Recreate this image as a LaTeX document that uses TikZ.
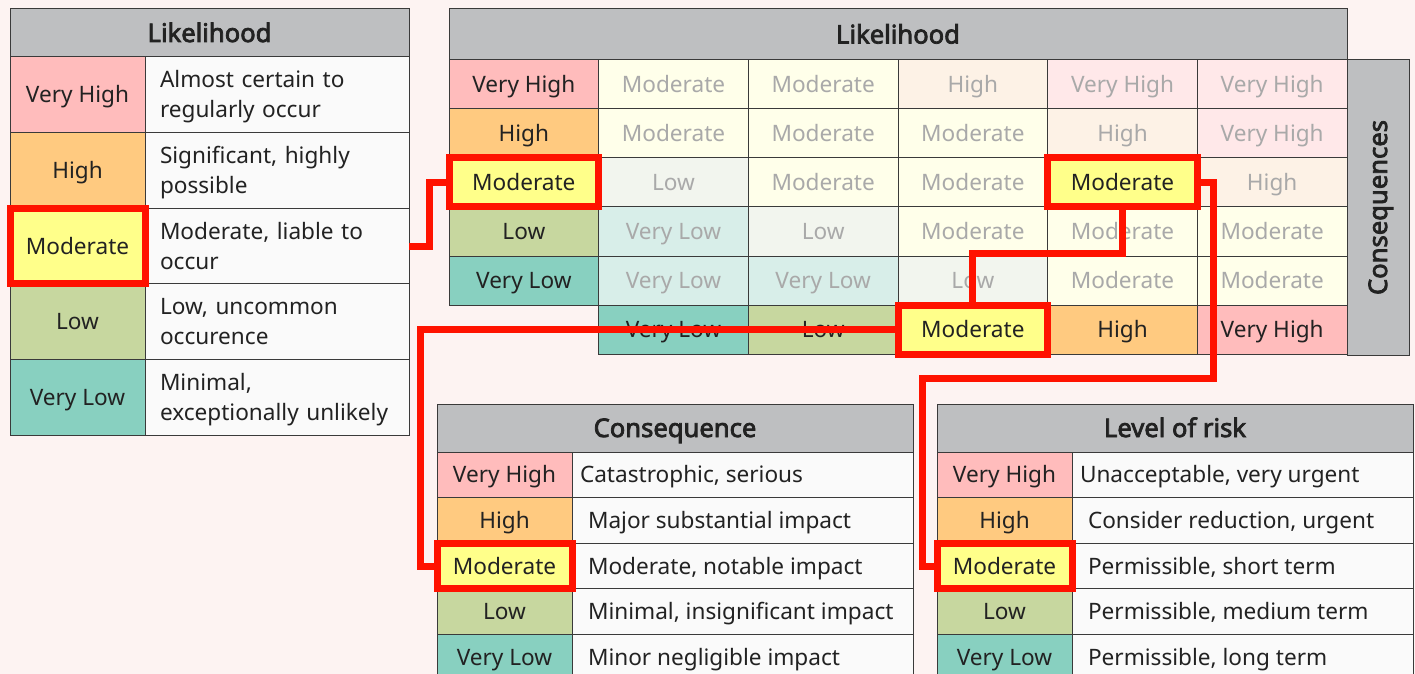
\documentclass[tikz,border=0pt]{standalone}
\usepackage{fontspec}
\setmainfont{Noto Sans}
\newfontfamily\headfont{Noto Sans}[FakeBold=3]
\usepackage{tikz}
\usetikzlibrary{positioning}

\definecolor{pagebg}{HTML}{FDF3F2}
\definecolor{headgray}{HTML}{BEBFC1}
\definecolor{rule}{HTML}{3A3A3A}
\definecolor{ink}{HTML}{222222}
\definecolor{faint}{HTML}{A9A9A9}
\definecolor{paper}{HTML}{FAFAFA}
\definecolor{vhighC}{HTML}{FFBCBC}
\definecolor{highC}{HTML}{FFCA80}
\definecolor{modC}{HTML}{FFFF8A}
\definecolor{lowC}{HTML}{C7D79F}
\definecolor{vlowC}{HTML}{88D0C0}
\definecolor{vhighF}{HTML}{FFE8E9}
\definecolor{highF}{HTML}{FDF2E6}
\definecolor{modF}{HTML}{FFFFEA}
\definecolor{lowF}{HTML}{F2F5EE}
\definecolor{vlowF}{HTML}{D8EEE9}
\definecolor{hilite}{HTML}{FF1200}

\tikzset{
  cellbox/.style={draw=rule, line width=0.5pt, rectangle, inner sep=0pt, outer sep=0pt,
    anchor=north west, text=ink, font=\fontsize{11.3}{15}\selectfont},
  headbox/.style={cellbox, fill=headgray, text height=9pt, text depth=0pt,
    font=\headfont\fontsize{12.8}{15}\selectfont},
  labbox/.style={cellbox, minimum width=67.5pt, text height=8.1pt, text depth=0pt},
  descbox/.style={cellbox, fill=paper, align=left, text height=8.1pt},
  mcell/.style={cellbox, minimum width=74.83pt, minimum height=24.5pt,
    text height=8.1pt, text depth=0pt},
  redbox/.style={draw=hilite, line width=3.5pt},
  redlink/.style={draw=hilite, line width=3.5pt},
}

\begin{document}
\begin{tikzpicture}[x=0.5pt, y=-0.5pt]
\useasboundingbox[fill=pagebg] (0,0) rectangle (1415,674);
\clip (0,0) rectangle (1415,674);

% likelihood key
\node[headbox, minimum width=199.5pt, minimum height=24pt] (lkhead) at (10,9) {Likelihood};
\foreach \lbl/\clr/\desc [count=\i] in {
    Very High/vhighC/{Almost certain to\\regularly occur},
    High/highC/{Significant, highly\\possible},
    Moderate/modC/{Moderate, liable to\\occur},
    Low/lowC/{Low, uncommon\\occurence},
    Very Low/vlowC/{Minimal,\\exceptionally unlikely}}
{
  \node[labbox, fill=\clr, minimum height=37.8pt] (lk-\i) at (10,{57+(\i-1)*75.6}) {\lbl};
  \node[descbox, text width=117pt, inner xsep=7.5pt, minimum height=37.8pt, text depth=15pt,
    right=0pt of lk-\i] (lkd-\i) {\desc};
}

% risk matrix
\node[headbox, minimum width=449pt, minimum height=25.5pt] (mxhead) at (449,9) {Likelihood};
\node[headbox, anchor=center, rotate=90, minimum width=147.5pt, minimum height=31pt]
  (mxside) at (1378,207.5) {Consequences};
\foreach \lbl/\clr [count=\i] in {Very High/vhighC, High/highC, Moderate/modC, Low/lowC, Very Low/vlowC}
  \node[mcell, fill=\clr] (ml-\i) at (449,{60+(\i-1)*49}) {\lbl};
\foreach \lbl/\clr [count=\i] in {Very Low/vlowC, Low/lowC, Moderate/modC, High/highC, Very High/vhighC}
  \node[mcell, fill=\clr] (mb-\i) at ({449+\i*149.67},305) {\lbl};
\foreach \cells [count=\r] in {
    {Moderate/modF/faint, Moderate/modF/faint, High/highF/faint, Very High/vhighF/faint, Very High/vhighF/faint},
    {Moderate/modF/faint, Moderate/modF/faint, Moderate/modF/faint, High/highF/faint, Very High/vhighF/faint},
    {Low/lowF/faint, Moderate/modF/faint, Moderate/modF/faint, Moderate/modC/ink, High/highF/faint},
    {Very Low/vlowF/faint, Low/lowF/faint, Moderate/modF/faint, Moderate/modF/faint, Moderate/modF/faint},
    {Very Low/vlowF/faint, Very Low/vlowF/faint, Low/lowF/faint, Moderate/modF/faint, Moderate/modF/faint}}
  \foreach \lbl/\clr/\tc [count=\c] in \cells
    \node[mcell, fill=\clr, text=\tc] (m-\r-\c) at ({449+\c*149.67},{60+(\r-1)*49}) {\lbl};

% consequence key
\node[headbox, minimum width=238pt, minimum height=24pt] (cshead) at (437,404) {Consequence};
\foreach \lbl/\clr/\pad/\desc [count=\i] in {
    Very High/vhighC/4/{Catastrophic, serious},
    High/highC/8/{Major substantial impact},
    Moderate/modC/8/{Moderate, notable impact},
    Low/lowC/8/{Minimal, insignificant impact},
    Very Low/vlowC/8/{Minor negligible impact}}
{
  \pgfmathsetmacro\tw{170.5-2*\pad}
  \node[labbox, fill=\clr, minimum height=22.8pt] (cs-\i) at (437,{452+(\i-1)*45.6}) {\lbl};
  \node[descbox, inner xsep=\pad pt, minimum height=22.8pt, text depth=0pt,
    right=0pt of cs-\i] (csd-\i) {\makebox[\tw pt][l]{\desc}};
}

% level of risk key
\node[headbox, minimum width=238pt, minimum height=24pt] (lrhead) at (937,404) {Level of risk};
\foreach \lbl/\clr/\pad/\desc [count=\i] in {
    Very High/vhighC/4/{Unacceptable, very urgent},
    High/highC/8/{Consider reduction, urgent},
    Moderate/modC/8/{Permissible, short term},
    Low/lowC/8/{Permissible, medium term},
    Very Low/vlowC/8/{Permissible, long term}}
{
  \pgfmathsetmacro\tw{170.5-2*\pad}
  \node[labbox, fill=\clr, minimum height=22.8pt] (lr-\i) at (937,{452+(\i-1)*45.6}) {\lbl};
  \node[descbox, inner xsep=\pad pt, minimum height=22.8pt, text depth=0pt,
    right=0pt of lr-\i] (lrd-\i) {\makebox[\tw pt][l]{\desc}};
}

% highlighted path
\foreach \n in {lk-3, ml-3, m-3-4, mb-3, cs-3, lr-3}
  \draw[redbox] (\n.north west) rectangle (\n.south east);
\draw[redlink] (lkd-3.east) -- ++(20,0) |- (ml-3.west);
\draw[redlink] (m-3-4.south) -- ++(0,46) -| (mb-3.north);
\draw[redlink] (mb-3.west) -| ([xshift=-8.5pt]cs-3.west) -- (cs-3.west);
\draw[redlink] (m-3-4.east) -- ++(16,0) -- ++(0,195.5) -| ([xshift=-7.5pt]lr-3.west) -- (lr-3.west);
\end{tikzpicture}
\end{document}
